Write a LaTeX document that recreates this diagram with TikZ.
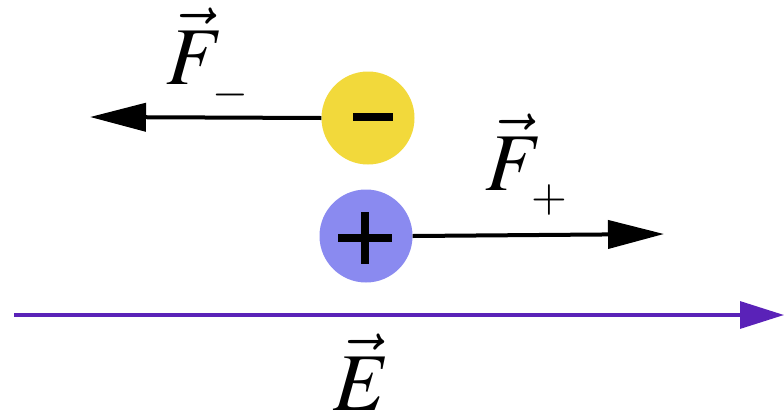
\documentclass[tikz,border=0pt]{standalone}
\usepackage{mathptmx}
\usetikzlibrary{arrows.meta}
\definecolor{negyellow}{HTML}{F2D93B}
\definecolor{posblue}{HTML}{8A8AF0}
\definecolor{fieldpurple}{HTML}{5A22B8}
\newcommand{\smallsign}[2]{\raisebox{#1}{\fontsize{46}{46}\selectfont$#2$}}
\tikzset{
  charge/.style={circle, minimum size=93pt, inner sep=0pt, draw=none},
  force/.style={line width=4pt, black, -{Triangle[length=56pt,width=28pt]}},
  field/.style={line width=3.2pt, fieldpurple, -{Triangle[length=44pt,width=27pt]}},
  lbl/.style={inner sep=0pt, font=\fontsize{82}{82}\selectfont},
  sign/.style={line width=7.5pt, black}
}
\begin{document}
\begin{tikzpicture}[x=1pt, y=-1pt]
\useasboundingbox (0,0) rectangle (784,418);
\node[charge, fill=negyellow] (neg) at (368,118) {};
\node[charge, fill=posblue] (pos) at (366,236) {};
\coordinate (negtip) at (90,117);
\coordinate (postip) at (664,234);
\coordinate (estart) at (14,315);
\coordinate (etip) at (784,315);
\draw[force] (neg.west) -- (negtip);
\draw[force] (pos.east) -- (postip);
\draw[field] (estart) -- (etip);
% signs
\draw[sign] (353,117) -- (393,117);
\draw[sign] (338,238) -- (392,238);
\draw[sign] (365,212) -- (365,264);
\node[lbl, anchor=base west] (fneg) at (166,84) {$\vec{F}\kern-11pt\smallsign{-22pt}{-}$};
\node[lbl, anchor=base west] (fpos) at (485,190) {$\vec{F}\kern-11pt\smallsign{-21pt}{+}$};
\node[lbl, anchor=base] (elbl) at (362,410) {$\vec{E}$};
\end{tikzpicture}
\end{document}
